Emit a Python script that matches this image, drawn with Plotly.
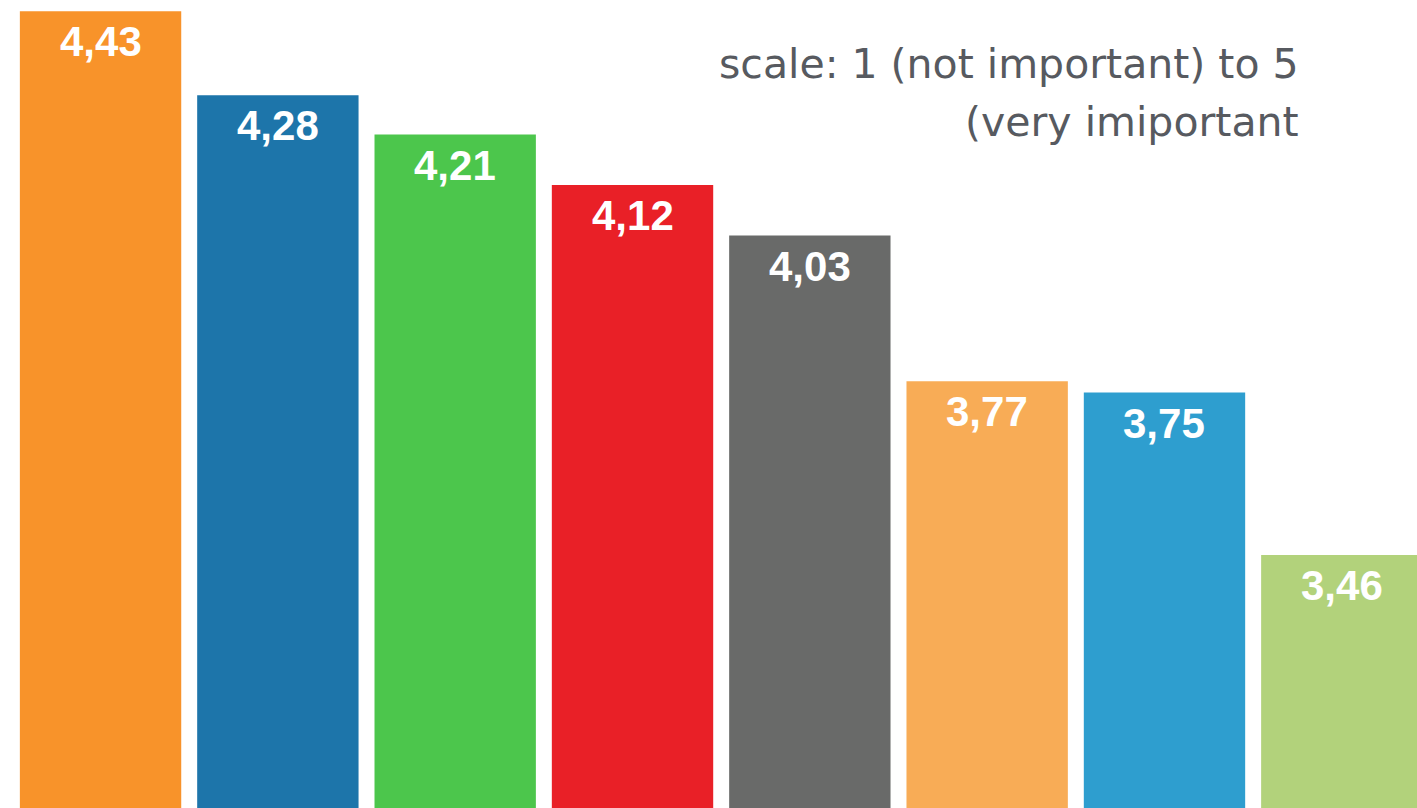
import plotly.graph_objects as go

categories = ["item 1", "item 2", "item 3", "item 4", "item 5", "item 6", "item 7", "item 8"]
values = [4.43, 4.28, 4.21, 4.12, 4.03, 3.77, 3.75, 3.46]
value_labels = ["4,43", "4,28", "4,21", "4,12", "4,03", "3,77", "3,75", "3,46"]
colors = ["#F8932A", "#1D75AA", "#4CC64C", "#E92027", "#696A69", "#F8AC56", "#2E9ECF", "#B2D27B"]
note_lines = ["scale: 1 (not important) to 5", "(very imiportant"]

W, H = 1417, 808

fig = go.Figure()
fig.add_trace(go.Bar(
    x=categories,
    y=values,
    marker=dict(color=colors, line=dict(width=0)),
    width=0.91,
    hoverinfo="skip",
))

label_font = dict(family="Liberation Sans, Arial, sans-serif", size=42, color="white", weight="bold")
for cat, val, lab in zip(categories, values, value_labels):
    fig.add_annotation(
        x=cat, y=val, xref="x", yref="y",
        text=lab, showarrow=False,
        xanchor="center", yanchor="top", yshift=-5,
        font=label_font,
    )

fig.update_layout(
    width=W, height=H,
    margin=dict(l=0, r=0, t=0, b=0),
    paper_bgcolor="white",
    plot_bgcolor="white",
    showlegend=False,
    hovermode=False,
    xaxis=dict(visible=False, range=[-0.567, 7.424], type="category", fixedrange=True),
    yaxis=dict(visible=False, range=[3.009, 4.450], fixedrange=True),
)

note_bottoms = [89, 147]
for line, bottom in zip(note_lines, note_bottoms):
    fig.add_annotation(
        xref="paper", yref="paper",
        x=1300 / W, y=1 - bottom / H,
        xanchor="right", yanchor="bottom",
        text=line, showarrow=False,
        font=dict(family="DejaVu Sans, sans-serif", size=41, color="#575A60"),
        borderpad=0,
    )

fig.write_html(
    "out.html",
    config={"displayModeBar": False, "staticPlot": True},
    post_script="document.body.style.margin='0';document.body.style.overflow='hidden';",
)
